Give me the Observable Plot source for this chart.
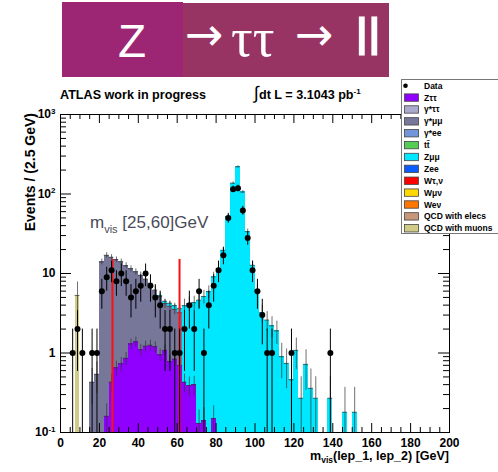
<!DOCTYPE html>
<html><head><meta charset="utf-8">
<script src="https://cdn.jsdelivr.net/npm/d3@7"></script>
<script src="https://cdn.jsdelivr.net/npm/@observablehq/plot@0.6"></script>
<style>
html,body{margin:0;padding:0;background:#fff;overflow:hidden}
#wrap{position:relative;width:498px;height:472px}
#wrap svg{position:absolute;left:0;top:0}
</style></head><body><div id="wrap"></div>
<script>
// ---- data (bins of 2.5 GeV starting at 0) ----
const binWidth = 2.5;
const zttValues = [0,0,0,0,0,0,0,0,0,0.16,0.43,0.65,0.73,0.86,1.3,1.38,1.1,1.22,1.25,1.2,0.95,1.08,0.78,0.84,0.7,0.43,0.39,0.40,0.13,0.14,0,0.15,0,0,0,0,0,0,0,0,0,0,0,0,0,0,0,0,0,0,0,0,0,0,0,0,0,0,0,0,0];
const gmmValues = [0,0,0,0,0,0,0.43,0.54,14,16.8,15.6,14.3,13.3,11.7,10.2,9.1,8.4,7.3,6.3,5.0,4.15,3.1,3.1,2.7,2.5,0,0,0,0,0,0,0,0,0,0,0,0,0,0,0,0,0,0,0,0,0,0,0,0,0,0,0,0,0,0,0,0,0,0,0,0];
const zmmValues = [0,0,0,0,0,0,0,0,0,0,0,0,0,0,0,0,0,0,0,0,0.15,0.3,0.35,0.4,0.45,3.5,3.8,3.9,4.5,5.0,5.9,8.9,11.6,19.6,52,137,220,106,33.6,12.7,6.2,3.2,2.6,2.2,1.9,0.9,0.74,0.46,1.08,0.27,0.72,0.36,0.27,0,0,0.27,0,0,0.18,0,0.18];
const qcdMuValues = [0,0,0,5.3,0,0,0,0,0,0,0,0,0,0,0,0,0,0,0,0,0,0,0,0,0,0,0,0,0,0,0,0,0,0,0,0,0,0,0,0,0,0,0,0,0,0,0,0,0,0,0,0,0,0,0,0,0,0,0,0,0];
const dataCounts = [0,0,1,2,1,0,1,1,6,9,11,8,10,8,5,6,7,10,7,5,4,2,2,1,1,2,4,2,6,1,4,7,11,17,50,115,118,62,28,11,6,3,1,1,0,0,0,1,0,0,0,0,0,0,0,1,0,0,0,0,0];
const cutPositions = [26.7, 61.2];
const cutTop = 15;
const xTicks = [0,20,40,60,80,100,120,140,160,180,200];
const yTicks = [0.1,1,10,100,1000];
const legendLabels = ["Data","Zττ","γ*ττ","γ*μμ","γ*ee","tt̄","Zμμ","Zee","Wτ,ν","Wμν","Weν","QCD with elecs","QCD with muons"];
const legendColors = [null,"#8f00ff","#aaaacc","#77779a","#7195d8","#55cc55","#00e8ff","#0a5cff","#ff0000","#ffd800","#ff7700","#c8967a","#d0cc88"];

// ---- layout ----
const W = 498, H = 472, mL = 60, mR = 49, mT = 114, mB = 40;
const fh = H - mT - mB, fw = W - mL - mR;

const layers = [
  {values: zttValues, color: "#8f00ff", w: 0.03},
  {values: gmmValues, color: "#77779a", w: 0.1},
  {values: zmmValues, color: "#00e8ff", w: 0.2},
  {values: qcdMuValues, color: "#d0cc88", w: 1.2}
];
const rects = [];
const base = new Array(zttValues.length).fill(0);
layers.forEach(L => L.values.forEach((v, i) => {
  if (v > 0) {
    const b = base[i];
    rects.push({x1: i*binWidth, x2: (i+1)*binWidth, y1: b > 0 ? b : 0.1, y2: b + v, color: L.color, err: Math.sqrt(v*L.w)});
    base[i] += v;
  }
}));
const data = dataCounts.map((n, i) => ({x: (i+0.5)*binWidth, n, lo: Math.max(n - Math.sqrt(n), 0.1), hi: n + Math.sqrt(n)})).filter(d => d.n > 0);

const xMinor = d3.range(0, 201, 5).filter(d => d % 20 !== 0);
const yMinor = [];
[0.1, 1, 10, 100].forEach(d => { for (let k = 2; k <= 9; k++) yMinor.push(d*k); });

const chart = Plot.plot({
  width: W, height: H, marginLeft: mL, marginRight: mR, marginTop: mT, marginBottom: mB,
  style: {fontFamily: "'Liberation Sans', Arial, sans-serif", fontSize: "12px", fontWeight: "bold", color: "black", background: "transparent"},
  x: {domain: [0, 200]},
  y: {type: "log", domain: [0.1, 1000]},
  marks: [
    Plot.rect(rects, {x1: "x1", x2: "x2", y1: "y1", y2: "y2", fill: "color", clip: true, shapeRendering: "crispEdges"}),
    Plot.ruleY(rects, {x1: "x1", x2: "x2", y: "y2", stroke: "#333", strokeOpacity: 0.7, clip: true}),
    Plot.ruleX(rects, {x: d => (d.x1 + d.x2)/2, y1: d => Math.max(d.y2 - d.err, 0.1), y2: d => d.y2 + d.err, stroke: "#333", strokeOpacity: 0.7, clip: true}),
    Plot.ruleX(cutPositions, {x: d => d, y1: 0.1, y2: cutTop, stroke: "#ff1010", strokeWidth: 2}),
    Plot.ruleX(data, {x: "x", y1: "lo", y2: "hi", stroke: "black", clip: true}),
    Plot.dot(data, {x: "x", y: "n", r: 3, fill: "black"}),
    Plot.ruleX(xTicks, {x: d => d, insetTop: fh - 9, stroke: "black"}),
    Plot.ruleX(xMinor, {x: d => d, insetTop: fh - 5, stroke: "black"}),
    Plot.ruleX(xTicks, {x: d => d, insetBottom: fh - 9, stroke: "black"}),
    Plot.ruleX(xMinor, {x: d => d, insetBottom: fh - 5, stroke: "black"}),
    Plot.ruleY(yTicks, {y: d => d, insetRight: fw - 11, stroke: "black"}),
    Plot.ruleY(yMinor, {y: d => d, insetRight: fw - 6, stroke: "black"}),
    Plot.ruleY(yTicks, {y: d => d, insetLeft: fw - 11, stroke: "black"}),
    Plot.ruleY(yMinor, {y: d => d, insetLeft: fw - 6, stroke: "black"}),
    Plot.frame({stroke: "black"}),
    Plot.axisX({ticks: xTicks, tickSize: 0, tickPadding: 6, tickFormat: d => String(d)}),
    Plot.axisY({ticks: yTicks, tickSize: 0, tickPadding: 5, tickFormat: d => d === 1 ? "1" : d === 10 ? "10" : "10^" + Math.round(Math.log10(d))})
  ]
});
document.getElementById("wrap").appendChild(chart);
d3.select(chart).selectAll('g[aria-label="y-axis tick label"] text').each(function() {
  const t = this.textContent;
  if (t.includes("^")) {
    const [b, e] = t.split("^");
    this.textContent = b;
    d3.select(this).append("tspan").attr("dy", "-0.55em").attr("font-size", "8px").text(e);
  }
});

// ---- overlay: banner, header texts, labels, legend ----
const ns = "http://www.w3.org/2000/svg";
const ov = d3.select("#wrap").append("svg").attr("xmlns", ns).attr("width", W).attr("height", H)
  .style("font-family", "'Liberation Sans', Arial, sans-serif").style("pointer-events", "none");
ov.append("rect").attr("x", 62).attr("y", 2).attr("width", 121).attr("height", 75).attr("fill", "#9d2674");
ov.append("rect").attr("x", 183).attr("y", 3).attr("width", 206).attr("height", 74).attr("fill", "#983463");
ov.append("text").attr("x", 118).attr("y", 57).attr("font-size", 46).attr("fill", "white").text("Z");
ov.append("text").attr("x", 185).attr("y", 50).attr("font-size", 46).attr("font-family", "'DejaVu Sans'").attr("fill", "white").text("→");
ov.append("text").attr("x", 231).attr("y", 56).attr("font-size", 54).attr("font-family", "'Liberation Serif', serif").attr("fill", "white").text("ττ");
ov.append("text").attr("x", 295).attr("y", 50).attr("font-size", 46).attr("font-family", "'DejaVu Sans'").attr("fill", "white").text("→");
ov.append("text").attr("x", 356).attr("y", 55).attr("font-size", 52).attr("fill", "white")
  .attr("stroke", "white").attr("stroke-width", 1.2).attr("letter-spacing", 1).text("ll");

ov.append("text").attr("x", 60).attr("y", 99).attr("font-size", 12.6).attr("font-weight", "bold").text("ATLAS work in progress");
const lum = ov.append("text").attr("x", 254).attr("y", 99).attr("font-size", 12.6).attr("font-weight", "bold");
lum.append("tspan").attr("font-size", 18).attr("font-weight", "normal").text("∫");
lum.append("tspan").text("dt L =  3.1043 pb");
lum.append("tspan").attr("dy", -5).attr("font-size", 8).text("-1");

const ann = ov.append("text").attr("x", 90).attr("y", 228).attr("font-size", 17).attr("fill", "#4a4a58");
ann.append("tspan").text("m");
ann.append("tspan").attr("dy", 5).attr("font-size", 11).text("vis");
ann.append("tspan").attr("dy", -5).text(" [25,60]GeV");

ov.append("text").attr("transform", "translate(35,113) rotate(-90)").attr("text-anchor", "end")
  .attr("font-size", 14).attr("font-weight", "bold").text("Events / (2.5 GeV)");
const xl = ov.append("text").attr("x", 449).attr("y", 460).attr("text-anchor", "end").attr("font-size", 12.5).attr("font-weight", "bold");
xl.append("tspan").text("m");
xl.append("tspan").attr("dy", 3).attr("font-size", 8.5).text("vis");
xl.append("tspan").attr("dy", -3).text("(lep_1, lep_2)  [GeV]");

const lg = ov.append("g");
lg.append("rect").attr("x", 401.5).attr("y", 79.5).attr("width", 120).attr("height", 154).attr("fill", "white").attr("stroke", "#777");
legendLabels.forEach((lab, i) => {
  const cy = 85.7 + 11.88*i;
  if (legendColors[i] === null) {
    lg.append("circle").attr("cx", 405.5).attr("cy", cy).attr("r", 2.3).attr("fill", "black");
  } else {
    lg.append("rect").attr("x", 404.5).attr("y", cy - 3.7).attr("width", 14).attr("height", 7.4)
      .attr("fill", legendColors[i]).attr("stroke", "#444").attr("stroke-width", 0.8);
  }
  lg.append("text").attr("x", 424).attr("y", cy + 3).attr("font-size", 8.5).attr("font-weight", "bold").text(lab);
});
</script></body></html>
